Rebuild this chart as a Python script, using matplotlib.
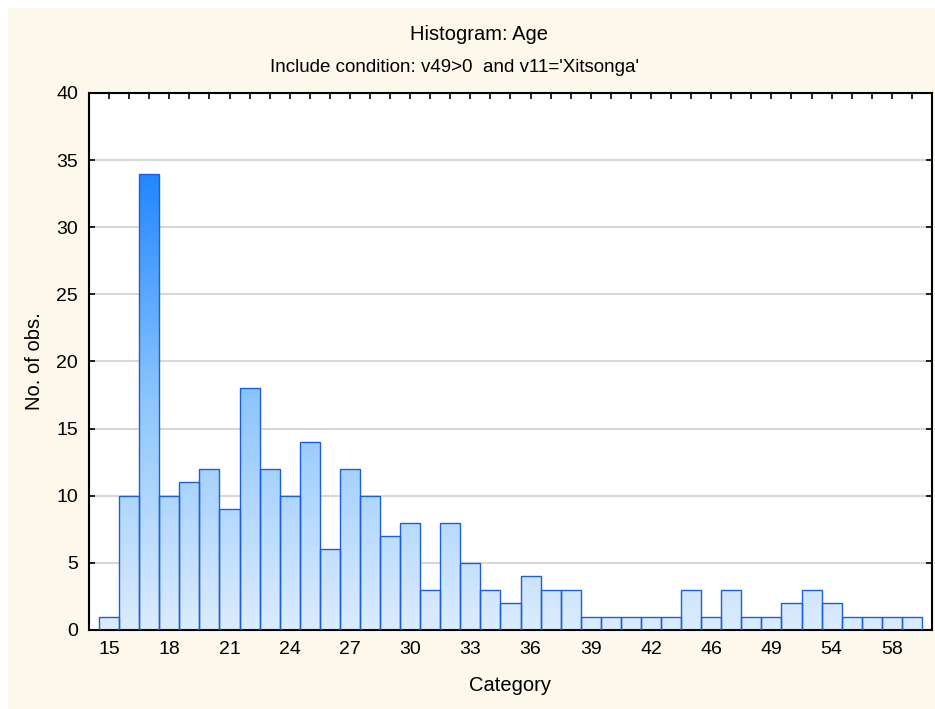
import matplotlib.pyplot as plt
import numpy as np
from matplotlib.colors import LinearSegmentedColormap
from matplotlib.patches import Rectangle

plt.rcParams['font.family'] = ['Liberation Sans', 'DejaVu Sans']

ages = [15, 16, 17, 18, 19, 20, 21, 22, 23, 24, 25, 26, 27, 28, 29, 30, 31, 32, 33,
        34, 35, 36, 37, 38, 39, 40, 41, 42, 43, 44, 46, 47, 48, 49, 51, 52, 54, 55,
        56, 58, 59]
counts = [1, 10, 34, 10, 11, 12, 9, 18, 12, 10, 14, 6, 12, 10, 7, 8, 3, 8, 5,
          3, 2, 4, 3, 3, 1, 1, 1, 1, 1, 3, 1, 3, 1, 1, 2, 3, 2, 1,
          1, 1, 1]
yticks = [0, 5, 10, 15, 20, 25, 30, 35, 40]

fig = plt.figure(figsize=(9.35, 7.09), dpi=100)
fig.patch.set_facecolor('white')
fig.add_artist(Rectangle((8 / 935, 0), 1, 1 - 8 / 709, transform=fig.transFigure,
                         facecolor='#fdf8ec', edgecolor='none', zorder=-10))

ax = fig.add_axes([89 / 935, 1 - 630 / 709, (932 - 89) / 935, (630 - 93) / 709])
ax.set_facecolor('white')

x = np.arange(len(ages))
bars = ax.bar(x, counts, width=1.0, facecolor='none', edgecolor='#1c5fd6',
              linewidth=1.0, zorder=3)

# vertical gradient shared by all bars, clipped to each bar
cmap = LinearSegmentedColormap.from_list('grad', ['#dcecfd', '#8ec6fd', '#2186ff'])
grad = np.linspace(0, 1, 256).reshape(-1, 1)
for b in bars:
    x0 = b.get_x()
    img = ax.imshow(grad, cmap=cmap, aspect='auto', origin='lower',
                    extent=[x0, x0 + 1, 0, 34], zorder=2, interpolation='bilinear')
    img.set_clip_path(b)

ax.set_xlim(-1, len(ages))
ax.set_ylim(0, 40)
ax.set_yticks(yticks)
ax.grid(axis='y', color='#d8d8d8', linewidth=1.5, zorder=1)
ax.set_axisbelow(True)

ax.set_xticks(x)
ax.set_xticklabels([str(a) if i % 3 == 0 else '' for i, a in enumerate(ages)], fontsize=14)
ax.tick_params(axis='x', direction='in', length=4, width=1.2, top=True, pad=8)
ax.tick_params(axis='y', direction='in', length=4, width=1.2, right=True, labelsize=14, pad=8)
for s in ax.spines.values():
    s.set_linewidth(1.5)
    s.set_color('black')

ax.set_xlabel('Category', fontsize=14.5, labelpad=13)
ax.set_ylabel('No. of obs.', fontsize=14.5, labelpad=9)

fig.text(479 / 935, 1 - 35 / 709, 'Histogram: Age', ha='center', va='center', fontsize=14.5)
fig.text(454 / 935, 1 - 67 / 709, "Include condition: v49>0  and v11='Xitsonga'",
         ha='center', va='center', fontsize=13.5)

fig.savefig('out.png', dpi=100)
